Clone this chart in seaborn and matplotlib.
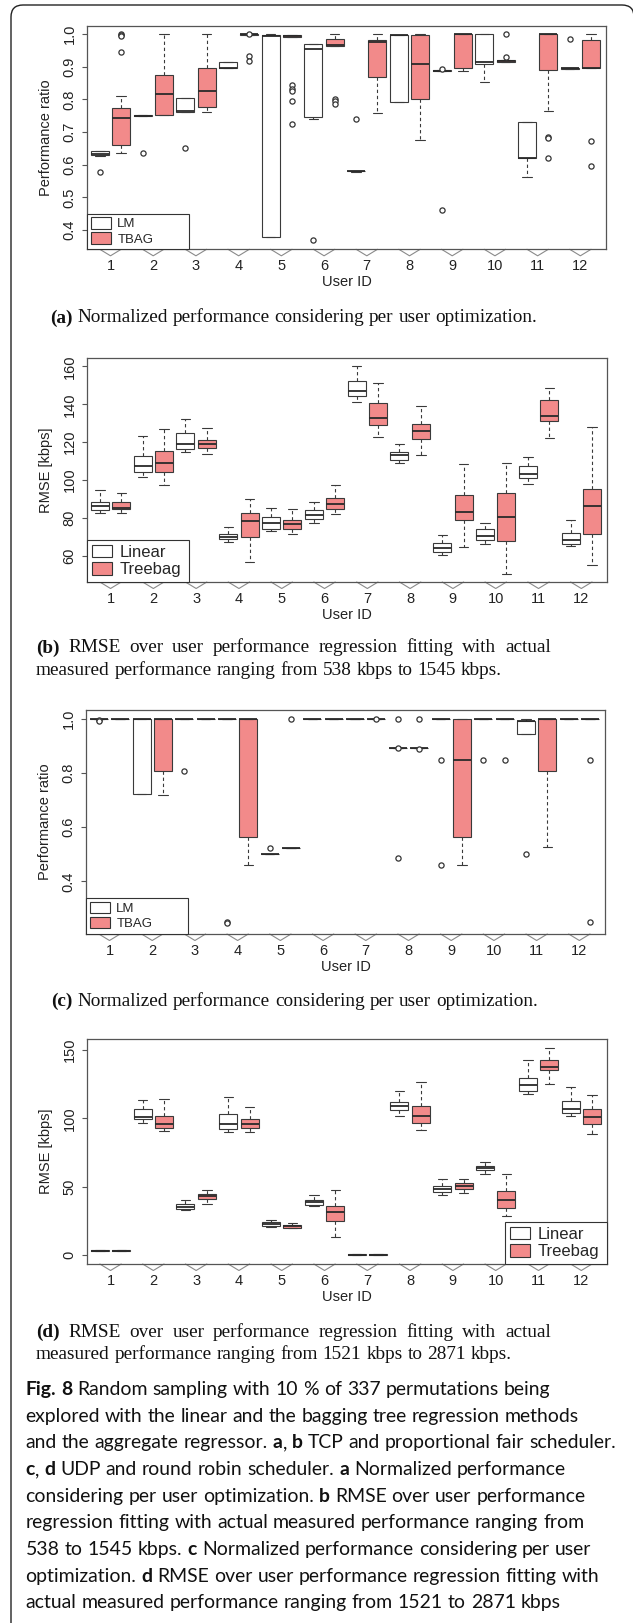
import numpy as np
import pandas as pd
import matplotlib
matplotlib.use("Agg")
import matplotlib.pyplot as plt
import seaborn as sns
from matplotlib.patches import Patch, FancyBboxPatch
from matplotlib.transforms import IdentityTransform, blended_transform_factory

# ---------------------------------------------------------------- data
USERS = list(range(1, 13))

# box summaries per user: (lower whisker, Q1, median, Q3, upper whisker)
# (a) TCP / PF - normalized performance
A_LM = [
    (0.627, 0.629, 0.632, 0.642, 0.642),
    (0.749, 0.749, 0.750, 0.751, 0.751),
    (0.763, 0.763, 0.765, 0.804, 0.804),
    (0.896, 0.896, 0.897, 0.915, 0.915),
    (0.378, 0.378, 0.995, 0.998, 1.000),
    (0.740, 0.746, 0.955, 0.969, 0.969),
    (0.579, 0.580, 0.580, 0.581, 0.581),
    (0.793, 0.793, 0.999, 0.999, 0.999),
    (0.887, 0.887, 0.888, 0.889, 0.889),
    (0.855, 0.908, 0.915, 1.000, 1.000),
    (0.562, 0.620, 0.621, 0.730, 0.730),
    (0.894, 0.894, 0.895, 0.896, 0.896),
]
A_TBAG = [
    (0.635, 0.660, 0.743, 0.773, 0.810),
    (0.751, 0.753, 0.816, 0.876, 1.000),
    (0.761, 0.776, 0.826, 0.897, 1.000),
    (0.997, 0.998, 1.000, 1.000, 1.000),
    (0.991, 0.992, 0.995, 0.999, 0.999),
    (0.964, 0.964, 0.966, 0.985, 1.000),
    (0.758, 0.869, 0.975, 0.981, 1.000),
    (0.675, 0.800, 0.908, 0.999, 1.000),
    (0.888, 0.895, 1.000, 1.000, 1.000),
    (0.915, 0.915, 0.918, 0.921, 0.921),
    (0.766, 0.889, 1.000, 1.000, 1.000),
    (0.897, 0.897, 0.897, 0.983, 1.000),
]
A_LM_OUT = {1: [0.578], 2: [0.637], 3: [0.650], 6: [0.368], 7: [0.740],
            9: [0.892, 0.460], 12: [0.985]}
A_TBAG_OUT = {1: [1.0, 0.997, 0.993, 0.944], 4: [1.0, 0.932, 0.917],
              5: [0.844, 0.831, 0.827, 0.794, 0.724], 6: [0.800, 0.794, 0.787],
              10: [1.0, 0.930], 11: [0.686, 0.682, 0.620], 12: [0.674, 0.596]}

# (b) TCP / PF - RMSE [kbps]
B_LIN = [
    (82.8, 84.4, 86.2, 88.6, 94.8),
    (101.5, 104.1, 107.6, 112.5, 123.1),
    (114.7, 116.6, 119.1, 125.0, 132.1),
    (67.4, 69.0, 70.2, 71.6, 75.1),
    (73.0, 74.2, 77.2, 80.6, 85.1),
    (77.6, 79.5, 81.4, 84.1, 88.6),
    (141.4, 144.4, 147.0, 152.3, 160.0),
    (109.0, 110.6, 113.2, 115.0, 119.2),
    (60.4, 62.1, 64.0, 66.9, 71.2),
    (66.2, 68.3, 70.7, 74.2, 77.4),
    (98.0, 101.1, 103.2, 107.5, 112.4),
    (65.1, 66.5, 68.6, 71.9, 78.8),
]
B_TREE = [
    (82.5, 84.8, 85.3, 88.3, 93.4),
    (97.3, 104.5, 109.2, 115.4, 126.8),
    (113.8, 116.9, 119.1, 121.2, 127.3),
    (56.8, 70.0, 78.6, 82.5, 90.2),
    (71.8, 74.2, 76.7, 78.8, 84.8),
    (82.1, 84.8, 87.6, 90.6, 97.6),
    (122.7, 128.9, 132.8, 140.7, 151.2),
    (113.2, 121.7, 125.9, 129.4, 139.3),
    (64.7, 78.8, 83.2, 92.2, 108.3),
    (50.7, 68.1, 80.4, 93.2, 108.9),
    (122.0, 131.4, 134.0, 142.1, 148.4),
    (55.1, 71.6, 86.4, 95.1, 128.2),
]

# (c) UDP / RR - normalized performance
C_LM = [
    (1.0, 1.0, 1.0, 1.0, 1.0),
    (0.7215, 0.7215, 1.0, 1.0, 1.0),
    (1.0, 1.0, 1.0, 1.0, 1.0),
    (1.0, 1.0, 1.0, 1.0, 1.0),
    (0.50, 0.50, 0.50, 0.50, 0.50),
    (1.0, 1.0, 1.0, 1.0, 1.0),
    (1.0, 1.0, 1.0, 1.0, 1.0),
    (0.892, 0.892, 0.892, 0.892, 0.892),
    (1.0, 1.0, 1.0, 1.0, 1.0),
    (1.0, 1.0, 1.0, 1.0, 1.0),
    (0.944, 0.944, 0.99, 0.99, 1.0),
    (1.0, 1.0, 1.0, 1.0, 1.0),
]
C_TBAG = [
    (1.0, 1.0, 1.0, 1.0, 1.0),
    (0.720, 0.806, 1.0, 1.0, 1.0),
    (1.0, 1.0, 1.0, 1.0, 1.0),
    (0.459, 0.564, 1.0, 1.0, 1.0),
    (0.524, 0.524, 0.524, 0.524, 0.524),
    (1.0, 1.0, 1.0, 1.0, 1.0),
    (1.0, 1.0, 1.0, 1.0, 1.0),
    (0.891, 0.891, 0.891, 0.891, 0.891),
    (0.459, 0.564, 0.849, 1.0, 1.0),
    (1.0, 1.0, 1.0, 1.0, 1.0),
    (0.526, 0.806, 1.0, 1.0, 1.0),
    (1.0, 1.0, 1.0, 1.0, 1.0),
]
C_LM_OUT = {1: [0.996, 0.992], 3: [0.806], 4: [0.250, 0.245], 5: [0.524],
            8: [1.0, 0.891, 0.486], 9: [0.849, 0.459], 10: [0.849], 11: [0.500]}
C_TBAG_OUT = {5: [1.0], 7: [1.0], 8: [1.0, 0.888], 10: [0.849], 12: [0.849, 0.249]}

# (d) UDP / RR - RMSE [kbps]
D_LIN = [
    (2.9, 2.9, 3.2, 3.6, 3.6),
    (96.3, 99.2, 101.1, 106.5, 113.4),
    (33.2, 33.7, 35.2, 37.6, 40.1),
    (89.9, 92.4, 96.0, 103.3, 116.0),
    (20.8, 21.3, 22.5, 24.0, 25.9),
    (35.7, 36.9, 38.6, 40.6, 43.7),
    (0.0, 0.0, 0.2, 0.5, 0.5),
    (102.1, 105.8, 109.0, 112.1, 120.0),
    (44.2, 46.2, 48.4, 50.6, 55.7),
    (59.6, 62.1, 63.8, 65.2, 68.2),
    (117.8, 120.0, 124.1, 129.7, 142.7),
    (101.4, 103.6, 106.5, 112.9, 123.1),
]
D_TREE = [
    (2.9, 2.9, 3.2, 3.6, 3.6),
    (90.9, 93.3, 96.0, 102.1, 114.3),
    (37.2, 40.8, 43.3, 45.0, 47.7),
    (89.9, 93.3, 96.0, 99.9, 108.5),
    (20.1, 20.1, 21.0, 22.3, 23.2),
    (13.2, 25.2, 31.8, 36.2, 47.7),
    (0.0, 0.0, 0.2, 0.5, 0.5),
    (91.4, 96.8, 102.1, 109.2, 126.6),
    (45.2, 48.6, 50.8, 52.5, 55.7),
    (28.8, 34.7, 40.1, 47.2, 59.6),
    (124.8, 135.3, 137.8, 142.4, 151.7),
    (88.7, 96.0, 100.7, 107.0, 116.8),
]

A_YTICKS = [0.4, 0.5, 0.6, 0.7, 0.8, 0.9, 1.0]
B_YTICKS = [60, 80, 100, 120, 140, 160]
C_YTICKS = [0.4, 0.6, 0.8, 1.0]
D_YTICKS = [0, 50, 100, 150]

CAP_A = [("(a)", "bold"), (" Normalized performance considering per user optimization.", "normal")]
CAP_B = [[("(b)", "bold"), (" RMSE over user performance regression fitting with actual", "normal")],
         [("measured performance ranging from 538 kbps to 1545 kbps.", "normal")]]
CAP_C = [("(c)", "bold"), (" Normalized performance considering per user optimization.", "normal")]
CAP_D = [[("(d)", "bold"), (" RMSE over user performance regression fitting with actual", "normal")],
         [("measured performance ranging from 1521 kbps to 2871 kbps.", "normal")]]

FIG_CAPTION = [
    [("Fig. 8", "bold"), (" Random sampling with 10 % of 337 permutations being", "normal")],
    [("explored with the linear and the bagging tree regression methods", "normal")],
    [("and the aggregate regressor. ", "normal"), ("a", "bold"), (", ", "normal"), ("b", "bold"),
     (" TCP and proportional fair scheduler.", "normal")],
    [("c", "bold"), (", ", "normal"), ("d", "bold"), (" UDP and round robin scheduler. ", "normal"),
     ("a", "bold"), (" Normalized performance", "normal")],
    [("considering per user optimization. ", "normal"), ("b", "bold"), (" RMSE over user performance", "normal")],
    [("regression fitting with actual measured performance ranging from", "normal")],
    [("538 to 1545 kbps. ", "normal"), ("c", "bold"), (" Normalized performance considering per user", "normal")],
    [("optimization. ", "normal"), ("d", "bold"), (" RMSE over user performance regression fitting with", "normal")],
    [("actual measured performance ranging from 1521 to 2871 kbps", "normal")],
]

# ---------------------------------------------------------------- style
sns.set_style("white")
plt.rcParams["font.family"] = ["Liberation Sans", "DejaVu Sans"]
RED = "#F28A8A"
LINE = "#3a3a3a"
SPINE = "#555555"

W, H = 633, 1623
fig = plt.figure(figsize=(W / 100, H / 100), dpi=100)
fig.patch.set_facecolor("white")
renderer = fig.canvas.get_renderer()


def box_frame(summaries, model):
    rows = []
    for u, s in zip(USERS, summaries):
        for v in s:
            rows.append({"user": u, "model": model, "value": v})
    return rows


def out_frame(outs, model, offset):
    rows = []
    for u, vals in outs.items():
        for v in vals:
            rows.append({"x": u + offset, "model": model, "value": v})
    return rows


def draw_panel(rect, lm, tb, lm_out, tb_out, labels, ylim, yticks, ytlabels,
               ylabel, legloc, legsize):
    l, t, r, b = rect
    ax = fig.add_axes([l / W, 1 - b / H, (r - l) / W, (b - t) / H])
    df = pd.DataFrame(box_frame(lm, labels[0]) + box_frame(tb, labels[1]))
    sns.boxplot(data=df, x="user", y="value", hue="model", hue_order=list(labels),
                palette={labels[0]: "white", labels[1]: RED}, saturation=1,
                native_scale=True, width=1.0, gap=0.16, whis=(0, 100),
                showfliers=False, linecolor=LINE, linewidth=0.8,
                whiskerprops={"linestyle": (0, (3, 2.5))},
                medianprops={"linewidth": 1.3, "color": "#2a2a2a"},
                capwidths=0.22, legend=False, ax=ax)
    odf = pd.DataFrame(out_frame(lm_out, labels[0], -0.25) +
                       out_frame(tb_out, labels[1], 0.25),
                       columns=["x", "model", "value"])
    if len(odf):
        sns.scatterplot(data=odf, x="x", y="value", ax=ax, marker="o", s=14,
                        color="white", edgecolor="#333333", linewidth=0.9,
                        legend=False, zorder=6)
    ax.set_xlim(0.45, 12.6)
    ax.set_ylim(*ylim)
    ax.set_xticks(USERS)
    ax.set_xticklabels([str(u) for u in USERS])
    ax.set_yticks(yticks)
    ax.set_yticklabels(ytlabels)
    ax.tick_params(axis="x", length=0, pad=7, labelsize=10.5, colors="#222222")
    ax.tick_params(axis="y", length=3.6, width=0.8, color=SPINE, pad=4,
                   labelsize=10.5, labelcolor="#222222", labelrotation=90, left=True)
    for lab in ax.get_yticklabels():
        lab.set_va("center")
    for sp in ax.spines.values():
        sp.set_visible(True)
        sp.set_color(SPINE)
        sp.set_linewidth(0.9)
    ax.set_xlabel("User ID", fontsize=10.5, color="#222222")
    ax.set_ylabel(ylabel, fontsize=10.5, color="#222222")
    hpx = b - t
    ax.xaxis.set_label_coords(0.5, -26.0 / hpx)
    ax.yaxis.set_label_coords(-34.0 / (r - l), 0.5)
    # chevron-shaped ticks below the axis
    tr = blended_transform_factory(ax.transData, ax.transAxes)
    d = 6.5 / hpx
    for u in USERS:
        ax.plot([u - 0.25, u, u + 0.25], [0, -d, 0], transform=tr, clip_on=False,
                color="#8a8a8a", lw=0.8, zorder=1)
    handles = [Patch(facecolor="white", edgecolor="#333333", linewidth=0.8, label=labels[0]),
               Patch(facecolor=RED, edgecolor="#333333", linewidth=0.8, label=labels[1])]
    wfrac = 102.0 / (r - l)
    if legloc == "lower left":
        anchor = (0, 0, wfrac, 0.2)
    else:
        anchor = (1 - wfrac, 0, wfrac, 0.2)
    hl = 20.0 / (legsize * 100 / 72)
    hh = 12.5 / (legsize * 100 / 72)
    leg = ax.legend(handles=handles, loc=legloc, bbox_to_anchor=anchor, mode="expand",
                    borderaxespad=0, fancybox=False, framealpha=1, edgecolor="#333333",
                    fontsize=legsize, handlelength=hl, handleheight=hh,
                    handletextpad=0.5, borderpad=0.28, labelspacing=0.15)
    leg.get_frame().set_linewidth(0.8)
    return ax


draw_panel((87, 25.7, 606, 249.3), A_LM, A_TBAG, A_LM_OUT, A_TBAG_OUT, ("LM", "TBAG"),
           (0.341, 1.026), A_YTICKS, [f"{v:.1f}" for v in A_YTICKS], "Performance ratio",
           "lower left", 9.5)
draw_panel((87, 358, 607, 582), B_LIN, B_TREE, {}, {}, ("Linear", "Treebag"),
           (46.3, 164.4), B_YTICKS, [str(v) for v in B_YTICKS], "RMSE [kbps]",
           "lower left", 12)
draw_panel((86, 710, 605, 934), C_LM, C_TBAG, C_LM_OUT, C_TBAG_OUT, ("LM", "TBAG"),
           (0.206, 1.032), C_YTICKS, [f"{v:.1f}" for v in C_YTICKS], "Performance ratio",
           "lower left", 9.5)
draw_panel((87, 1039, 607, 1264), D_LIN, D_TREE, {}, {}, ("Linear", "Treebag"),
           (-6.6, 158.1), D_YTICKS, [str(v) for v in D_YTICKS], "RMSE [kbps]",
           "lower right", 12)


# ---------------------------------------------------------------- text helpers
def tokens_of(runs):
    toks, pending = [], False
    for text, weight in runs:
        parts = text.split(" ")
        for i, p in enumerate(parts):
            if i > 0:
                pending = True
            if p:
                toks.append((p, weight, pending and len(toks) > 0))
                pending = False
    return toks


def measure(s, family, size, weight):
    t = fig.text(0, 0, s, fontfamily=family, fontsize=size, fontweight=weight)
    w = t.get_window_extent(renderer).width
    t.remove()
    return w


def line_layout(runs, family, size):
    toks = tokens_of(runs)
    widths = [measure(p, family, size, w) for p, w, _ in toks]
    sp = measure("n n", family, size, "normal") - measure("nn", family, size, "normal")
    nsp = sum(1 for _, _, s in toks if s)
    return toks, widths, sp, nsp


def natural_width(runs, family, size):
    toks, widths, sp, nsp = line_layout(runs, family, size)
    return sum(widths) + nsp * sp


def draw_line(runs, x, base, family, size, target=None, center=None):
    toks, widths, sp, nsp = line_layout(runs, family, size)
    nat = sum(widths) + nsp * sp
    if target is not None and nsp:
        sp = (target - sum(widths)) / nsp
    if center is not None:
        x = center - nat / 2
    cx = x
    for (p, wgt, sb), w in zip(toks, widths):
        if sb:
            cx += sp
        fig.text(cx / W, 1 - base / H, p, fontfamily=family, fontsize=size,
                 fontweight=wgt, va="baseline", ha="left", color="#111111")
        cx += w


SERIF = ["Liberation Serif", "DejaVu Serif"]
SANS = ["Lato", "DejaVu Sans"]
fit_a = 14.0 * 495.0 / natural_width(CAP_A, SERIF, 14.0)
fit_b = 14.0 * 464.0 / natural_width(CAP_B[1], SERIF, 14.0)
serif_size = 0.5 * (fit_a + fit_b)
draw_line(CAP_A, 0, 322.5, SERIF, serif_size, center=293.5)
draw_line(CAP_B[0], 36, 652.5, SERIF, serif_size, target=515)
draw_line(CAP_B[1], 36, 675.0, SERIF, serif_size)
draw_line(CAP_C, 0, 1006, SERIF, serif_size, center=294.5)
draw_line(CAP_D[0], 36, 1337, SERIF, serif_size, target=515)
draw_line(CAP_D[1], 36, 1359, SERIF, serif_size)

sans_size = 14.0 * 592.0 / natural_width(FIG_CAPTION[2], SANS, 14.0)
for i, runs in enumerate(FIG_CAPTION):
    draw_line(runs, 25.5, 1395 + i * 26.67, SANS, sans_size)

# rounded outer frame
frame = FancyBboxPatch((11, -40), 634 - 11, 1618 + 40,
                       boxstyle="round,pad=0,rounding_size=12",
                       transform=IdentityTransform(), fill=False,
                       edgecolor="#222222", linewidth=1.0)
fig.add_artist(frame)

fig.savefig("out.png", dpi=100, facecolor="white")
